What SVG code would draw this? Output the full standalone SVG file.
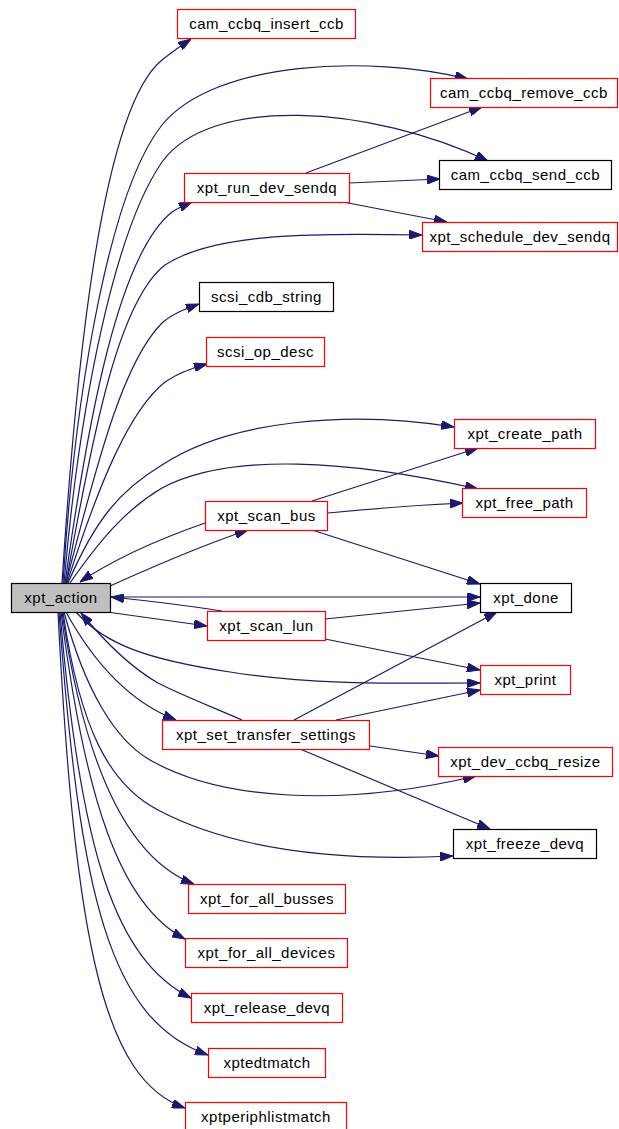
<svg xmlns="http://www.w3.org/2000/svg" width="619" height="1129" viewBox="0 0 619 1129">
<style>
  .n rect { fill: #ffffff; stroke-width: 1.2; }
  .red rect { stroke: #ff0000; }
  .blk rect { stroke: #000000; }
  .root rect { fill: #bfbfbf; stroke: #000000; }
  .n text { font-family: "Liberation Sans", Arial, Helvetica, sans-serif; font-size: 15px; letter-spacing: 0.5px; text-anchor: middle; fill: #000000; }
  #edges path { fill: none; stroke: #191970; stroke-width: 1.2; marker-end: url(#arrow); }
</style>
<defs>
  <marker id="arrow" viewBox="0 0 13 9" refX="13" refY="4.5" markerWidth="13" markerHeight="9" markerUnits="userSpaceOnUse" orient="auto">
    <path d="M0,0 L13,4.5 L0,9 z" fill="#191970" stroke="#191970" stroke-width="1"/>
  </marker>
</defs>
<rect width="619" height="1129" fill="#ffffff"/>

<g id="edges">
  <!-- xpt_action, upward fan -->
  <path d="M62,583 C75,380 100,110 162,60 C172,52 182,45 191,39"/>
  <path d="M63,583 C75,390 110,190 162,125 C215,60 370,55 468,79"/>
  <path d="M64,583 C80,400 115,230 162,162 C210,95 370,105 488,161"/>
  <path d="M65,583 C88,420 118,255 172,212 C178,208 185,205 192,202"/>
  <path d="M66,583 C95,420 120,300 165,265 C215,232 320,233 422,235"/>
  <path d="M66,583 C100,450 125,360 162,323 C172,314 185,309 199,304"/>
  <path d="M67,583 C100,480 130,410 165,382 C178,373 192,368 207,364"/>
  <path d="M68,583 C95,520 120,490 162,465 C230,420 350,410 454,427"/>
  <path d="M70,583 C100,540 125,510 162,488 C230,452 350,460 478,489"/>
  <!-- xpt_run_dev_sendq -->
  <path d="M306,173 L482,107"/>
  <path d="M349,183 L440,179"/>
  <path d="M343,202 L447,222"/>
  <!-- xpt_scan_bus -->
  <path d="M205,523 C165,537 120,555 80,582"/>
  <path d="M110,586 C150,568 200,546 248,530"/>
  <path d="M312,501 L478,448"/>
  <path d="M328,513 C370,509 420,505 463,503"/>
  <path d="M312,530 L480,584"/>
  <!-- xpt_action / xpt_scan_lun / xpt_done -->
  <path d="M111,597 L480,597"/>
  <path d="M222,611 C190,606 150,601 111,597"/>
  <path d="M107,612 L207,626"/>
  <path d="M325,619 L480,603"/>
  <path d="M325,639 L480,670"/>
  <path d="M76,612 C105,645 150,660 230,672 C320,686 400,683 480,683"/>
  <!-- xpt_set_transfer_settings -->
  <path d="M242,720 C200,702 175,692 158,683 C130,667 105,642 81,613"/>
  <path d="M66,612 C95,665 130,702 176,720"/>
  <path d="M294,720 L497,612"/>
  <path d="M336,720 L480,690"/>
  <path d="M370,746 L439,756"/>
  <path d="M300,749 L490,829"/>
  <!-- xpt_action, downward fan -->
  <path d="M64,612 C85,690 115,740 150,760 C220,800 340,808 476,776"/>
  <path d="M63,612 C80,730 110,785 158,810 C230,848 330,862 453,856"/>
  <path d="M62,612 C85,770 130,860 194,884"/>
  <path d="M61,612 C85,800 120,905 185,939"/>
  <path d="M60,612 C80,850 115,960 191,998"/>
  <path d="M59,612 C80,900 110,1020 208,1055"/>
  <path d="M58,612 C75,950 105,1080 185,1108"/>
</g>

<g id="node-cam_ccbq_insert_ccb" class="n red"><rect x="177.5" y="9.5" width="178" height="29"/><text x="266.5" y="29">cam_ccbq_insert_ccb</text></g>
<g id="node-cam_ccbq_remove_ccb" class="n red"><rect x="430.5" y="78.5" width="187" height="29"/><text x="524" y="98">cam_ccbq_remove_ccb</text></g>
<g id="node-cam_ccbq_send_ccb" class="n blk"><rect x="439.5" y="160.5" width="172" height="29"/><text x="525.5" y="180">cam_ccbq_send_ccb</text></g>
<g id="node-xpt_run_dev_sendq" class="n red"><rect x="184.5" y="173.5" width="165" height="29"/><text x="267" y="193">xpt_run_dev_sendq</text></g>
<g id="node-xpt_schedule_dev_sendq" class="n red"><rect x="422.5" y="222.5" width="195" height="29"/><text x="520" y="242">xpt_schedule_dev_sendq</text></g>
<g id="node-scsi_cdb_string" class="n blk"><rect x="199.5" y="282.5" width="134" height="29"/><text x="266.5" y="302">scsi_cdb_string</text></g>
<g id="node-scsi_op_desc" class="n red"><rect x="206.5" y="337.5" width="118" height="29"/><text x="265.5" y="357">scsi_op_desc</text></g>
<g id="node-xpt_create_path" class="n red"><rect x="454.5" y="419.5" width="141" height="29"/><text x="525" y="439">xpt_create_path</text></g>
<g id="node-xpt_free_path" class="n red"><rect x="462.5" y="488.5" width="124" height="29"/><text x="524.5" y="508">xpt_free_path</text></g>
<g id="node-xpt_scan_bus" class="n red"><rect x="205.5" y="501.5" width="122" height="29"/><text x="266.5" y="521">xpt_scan_bus</text></g>
<g id="node-xpt_action" class="n root"><rect x="11.5" y="583.5" width="99" height="29"/><text x="61" y="603">xpt_action</text></g>
<g id="node-xpt_done" class="n blk"><rect x="480.5" y="583.5" width="91" height="29"/><text x="526" y="603">xpt_done</text></g>
<g id="node-xpt_scan_lun" class="n red"><rect x="207.5" y="611.5" width="118" height="29"/><text x="266.5" y="631">xpt_scan_lun</text></g>
<g id="node-xpt_print" class="n red"><rect x="480.5" y="665.5" width="90" height="29"/><text x="525.5" y="685">xpt_print</text></g>
<g id="node-xpt_set_transfer_settings" class="n red"><rect x="162.5" y="720.5" width="207" height="29"/><text x="266" y="740">xpt_set_transfer_settings</text></g>
<g id="node-xpt_dev_ccbq_resize" class="n red"><rect x="438.5" y="747.5" width="174" height="29"/><text x="525.5" y="767">xpt_dev_ccbq_resize</text></g>
<g id="node-xpt_freeze_devq" class="n blk"><rect x="453.5" y="829.5" width="143" height="29"/><text x="525" y="849">xpt_freeze_devq</text></g>
<g id="node-xpt_for_all_busses" class="n red"><rect x="188.5" y="884.5" width="157" height="29"/><text x="267" y="904">xpt_for_all_busses</text></g>
<g id="node-xpt_for_all_devices" class="n red"><rect x="185.5" y="938.5" width="162" height="29"/><text x="266.5" y="958">xpt_for_all_devices</text></g>
<g id="node-xpt_release_devq" class="n red"><rect x="191.5" y="993.5" width="151" height="29"/><text x="267" y="1013">xpt_release_devq</text></g>
<g id="node-xptedtmatch" class="n red"><rect x="208.5" y="1048.5" width="117" height="29"/><text x="267" y="1068">xptedtmatch</text></g>
<g id="node-xptperiphlistmatch" class="n red"><rect x="185.5" y="1102.5" width="161" height="29"/><text x="266" y="1122">xptperiphlistmatch</text></g>
</svg>
